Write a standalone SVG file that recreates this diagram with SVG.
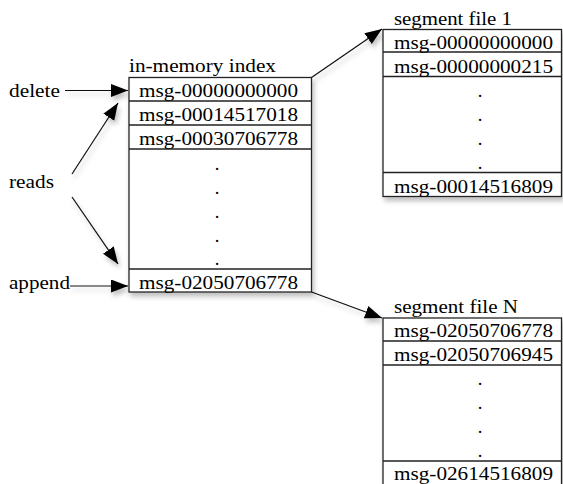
<svg xmlns="http://www.w3.org/2000/svg" width="563" height="484" viewBox="0 0 563 484">
<style>
text{font-family:"Liberation Serif","Times New Roman",serif;font-size:18.5px;fill:#000}
.dot{text-anchor:middle}
.box{fill:#fff;stroke:#222;stroke-width:1.3}
.sep{stroke:#222;stroke-width:1.6}
.conn{stroke:#111;stroke-width:1.2;fill:none;marker-end:url(#ah)}
.sh{filter:url(#shadow)}
</style>
<defs>
<marker id="ah" markerUnits="userSpaceOnUse" markerWidth="18" markerHeight="14" refX="17" refY="6.5" orient="auto">
<path d="M0,0 L17,6.5 L0,13 z" fill="#000"/>
</marker>
<filter id="shadow" x="-20%" y="-20%" width="140%" height="140%">
<feDropShadow dx="2" dy="4" stdDeviation="2.5" flood-color="#000" flood-opacity="0.25"/>
</filter>
</defs>

<g id="connectors" class="sh">
<line class="conn" x1="65" y1="90.5" x2="128" y2="90.5"/>
<line class="conn" x1="70" y1="286" x2="128" y2="286"/>
<line class="conn" x1="72" y1="174" x2="118" y2="103"/>
<line class="conn" x1="72" y1="197" x2="118" y2="264"/>
<line class="conn" x1="311.5" y1="77.5" x2="382" y2="29"/>
<line class="conn" x1="311.5" y1="292" x2="382" y2="318"/>
</g>

<g id="label-delete"><text x="9" y="96.5" textLength="51" lengthAdjust="spacingAndGlyphs">delete</text></g>
<g id="label-reads"><text x="9" y="187.5" textLength="45" lengthAdjust="spacingAndGlyphs">reads</text></g>
<g id="label-append"><text x="9" y="289" textLength="61" lengthAdjust="spacingAndGlyphs">append</text></g>

<g id="index">
<text x="129" y="72" textLength="147" lengthAdjust="spacingAndGlyphs">in-memory index</text>
<g class="sh">
<rect class="box" x="129" y="77.5" width="182.5" height="214.5"/>
<line class="sep" x1="129" y1="101" x2="311.5" y2="101"/>
<line class="sep" x1="129" y1="125" x2="311.5" y2="125"/>
<line class="sep" x1="129" y1="149" x2="311.5" y2="149"/>
<line class="sep" x1="129" y1="269" x2="311.5" y2="269"/>
</g>
<text x="139" y="97" textLength="159" lengthAdjust="spacingAndGlyphs">msg-00000000000</text>
<text x="139" y="121" textLength="159" lengthAdjust="spacingAndGlyphs">msg-00014517018</text>
<text x="139" y="145" textLength="159" lengthAdjust="spacingAndGlyphs">msg-00030706778</text>
<text class="dot" x="217" y="169.5">.</text>
<text class="dot" x="217" y="193.5">.</text>
<text class="dot" x="217" y="217.5">.</text>
<text class="dot" x="217" y="241.5">.</text>
<text class="dot" x="217" y="264.5">.</text>
<text x="139" y="289" textLength="159" lengthAdjust="spacingAndGlyphs">msg-02050706778</text>
</g>

<g id="segment-1">
<text x="394" y="25" textLength="118" lengthAdjust="spacingAndGlyphs">segment file 1</text>
<g class="sh">
<rect class="box" x="383" y="29.5" width="178.5" height="167"/>
<line class="sep" x1="383" y1="52" x2="561.5" y2="52"/>
<line class="sep" x1="383" y1="76.5" x2="561.5" y2="76.5"/>
<line class="sep" x1="383" y1="172.5" x2="561.5" y2="172.5"/>
</g>
<text x="394" y="48.5" textLength="159" lengthAdjust="spacingAndGlyphs">msg-00000000000</text>
<text x="394" y="73" textLength="159" lengthAdjust="spacingAndGlyphs">msg-00000000215</text>
<text class="dot" x="480" y="97">.</text>
<text class="dot" x="480" y="120.5">.</text>
<text class="dot" x="480" y="144.5">.</text>
<text class="dot" x="480" y="168.5">.</text>
<text x="394" y="193" textLength="159" lengthAdjust="spacingAndGlyphs">msg-00014516809</text>
</g>

<g id="segment-n">
<text x="394" y="312.5" textLength="124" lengthAdjust="spacingAndGlyphs">segment file N</text>
<g class="sh">
<rect class="box" x="383" y="318" width="178.5" height="190"/>
<line class="sep" x1="383" y1="341" x2="561.5" y2="341"/>
<line class="sep" x1="383" y1="365" x2="561.5" y2="365"/>
<line class="sep" x1="383" y1="461" x2="561.5" y2="461"/>
</g>
<text x="394" y="337" textLength="159" lengthAdjust="spacingAndGlyphs">msg-02050706778</text>
<text x="394" y="361" textLength="159" lengthAdjust="spacingAndGlyphs">msg-02050706945</text>
<text class="dot" x="480" y="384.5">.</text>
<text class="dot" x="480" y="408.5">.</text>
<text class="dot" x="480" y="433">.</text>
<text class="dot" x="480" y="457">.</text>
<text x="394" y="480" textLength="159" lengthAdjust="spacingAndGlyphs">msg-02614516809</text>
</g>
</svg>
